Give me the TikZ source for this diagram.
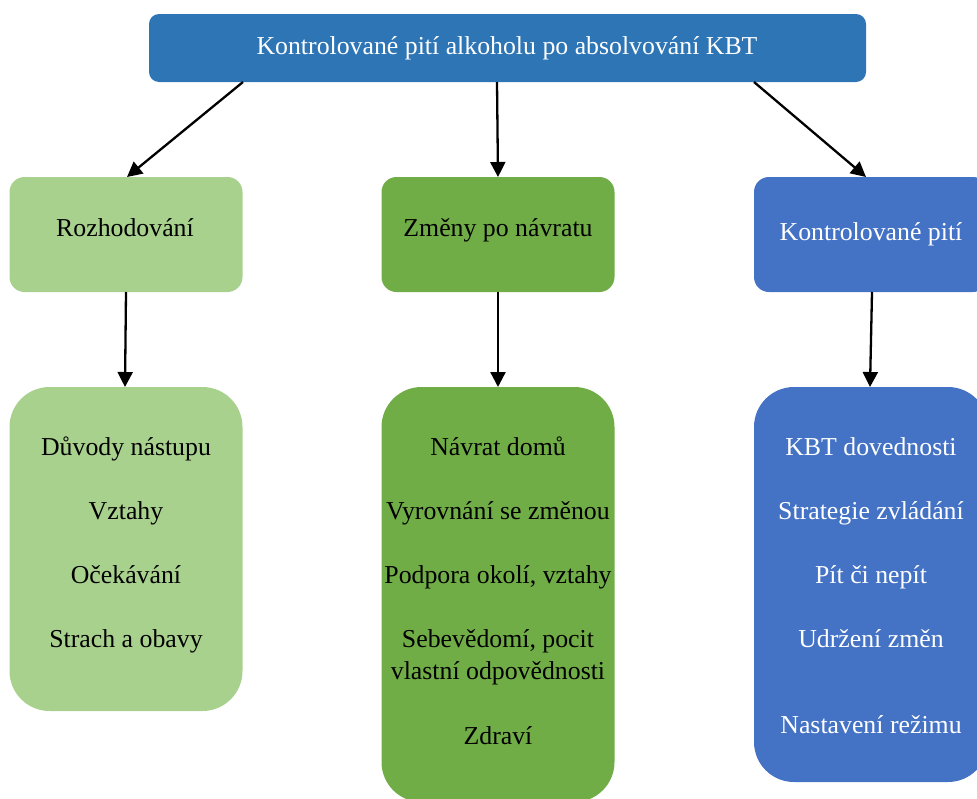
\documentclass[tikz,border=0pt]{standalone}
\usepackage{fontspec}
\setmainfont{Liberation Serif}
\newfontfamily\labelfont{Liberation Serif}
\usetikzlibrary{arrows.meta}
\definecolor{titleblue}{HTML}{2E75B6}
\definecolor{lightgreen}{HTML}{A9D18E}
\definecolor{midgreen}{HTML}{70AD47}
\definecolor{boxblue}{HTML}{4472C4}
\tikzset{
  box/.style={rectangle, draw=none, inner sep=0pt, outer sep=0pt},
  headbox/.style={box, minimum width=233pt, minimum height=115pt, rounded corners=15pt},
  listbox/.style={box, minimum width=233pt, rounded corners=40pt},
  lbl/.style={inner sep=0pt, anchor=base, font=\labelfont\fontsize{25.8}{30}\selectfont},
  arr/.style={line width=2.3pt, -{Triangle[length=15pt,width=15pt]}}
}
\begin{document}
\begin{tikzpicture}[x=1pt,y=-1pt]
\useasboundingbox (0,0) rectangle (977,798);
\clip (0,0) rectangle (977,798);

% title bar
\node[box, fill=titleblue, minimum width=717pt, minimum height=68pt, rounded corners=10pt] (title) at (507.5,48) {};
\node[lbl, text=white] (titletxt) at (507,54) {Kontrolované pití alkoholu po absolvování KBT};

% second row
\node[headbox, fill=lightgreen] (rozh) at (126,234.5) {};
\node[headbox, fill=midgreen] (zmeny) at (498,234.5) {};
\node[headbox, fill=boxblue, minimum width=234pt] (kontr) at (871,234.5) {};
\node[lbl] (rozhtxt) at (125,236.5) {Rozhodování};
\node[lbl] (zmenytxt) at (498,236.5) {Změny po návratu};
\node[lbl, text=white] (kontrtxt) at (871,240.5) {Kontrolované pití};

% third row
\node[listbox, fill=lightgreen, minimum height=324pt] (duvody) at (126,549) {};
\node[listbox, fill=midgreen, minimum height=415pt] (navrat) at (498,594.5) {};
\node[listbox, fill=boxblue, minimum width=234pt, minimum height=395pt] (kbt) at (871,584.5) {};

\node[lbl] (l1) at (126,455) {Důvody nástupu};
\node[lbl] (l2) at (126,519) {Vztahy};
\node[lbl] (l3) at (126,583) {Očekávání};
\node[lbl] (l4) at (126,647) {Strach a obavy};

\node[lbl] (m1) at (498,455) {Návrat domů};
\node[lbl] (m2) at (498,519) {Vyrovnání se změnou};
\node[lbl] (m3) at (498,583) {Podpora okolí, vztahy};
\node[lbl] (m4) at (498,647) {Sebevědomí, pocit};
\node[lbl] (m5) at (498,679) {vlastní odpovědnosti};
\node[lbl] (m6) at (498,744) {Zdraví};

\node[lbl, text=white] (r1) at (871,455) {KBT dovednosti};
\node[lbl, text=white] (r2) at (871,519) {Strategie zvládání};
\node[lbl, text=white] (r3) at (871,583) {Pít či nepít};
\node[lbl, text=white] (r4) at (871,647) {Udržení změn};
\node[lbl, text=white] (r5) at (871,733) {Nastavení režimu};

% connectors
\draw[arr] ([xshift=94pt]title.south west) -- ([xshift=1pt]rozh.north);
\draw[arr] ([xshift=-10.5pt]title.south) -- (zmeny.north);
\draw[arr] ([xshift=-112pt]title.south east) -- ([xshift=-5pt]kontr.north);
\draw[arr] (rozh.south) -- ([xshift=-1pt]duvody.north);
\draw[arr] (zmeny.south) -- (navrat.north);
\draw[arr] ([xshift=1pt]kontr.south) -- ([xshift=-1pt]kbt.north);
\end{tikzpicture}
\end{document}
